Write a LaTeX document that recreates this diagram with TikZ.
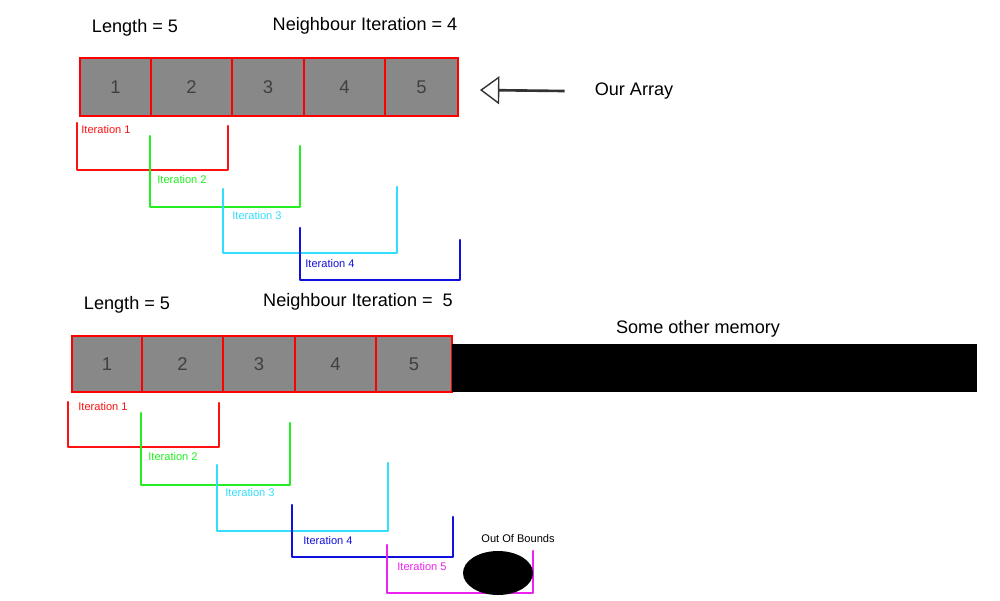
\documentclass[tikz,border=0pt]{standalone}
\usepackage{fontspec}
\setmainfont{Liberation Sans}
\usepackage{tikz}
\usetikzlibrary{positioning}
\usetikzlibrary{arrows.meta}
\usetikzlibrary{shapes.geometric}
\definecolor{cellgray}{HTML}{888888}
\definecolor{itA}{HTML}{FF1111}
\definecolor{itB}{HTML}{22EE22}
\definecolor{itC}{HTML}{33DDFF}
\definecolor{itD}{HTML}{1111DD}
\definecolor{itE}{HTML}{EE22EE}

\begin{document}
\begin{tikzpicture}[x=0.02cm, y=-0.02cm]
        \tikzstyle{cell}=[draw=red, fill=cellgray, line width=1.3pt, inner sep=0pt, text=black!75, font=\fontsize{10.5}{12}\selectfont]
        \tikzstyle{annot}=[font=\fontsize{10.3}{12}\selectfont]
        \tikzstyle{small annot}=[font=\fontsize{6.3}{8}\selectfont]
        \tikzstyle{bracket}=[line width=1.3pt, line join=round, line cap=round]
        \useasboundingbox (0,0) rectangle (1000,600);

        % Top array
        \foreach \name/\a/\b in {1/80/151,2/151/232,3/232/304,4/304/385,5/385/458}
            \node[cell, minimum width={(\b-\a)*0.02cm}, minimum height=1.16cm] (A-\name) at ({(\a+\b)/2}, 87) {\name};
        \node[annot] (lenA) at (135,28) {Length = 5};
        \node[annot] (nbA) at (365,26) {Neighbour Iteration = 4};
        \node[annot] (ours) at (634,91) {Our Array};
        \coordinate (tip) at (480,90);
        \draw[line width=1.5pt, black!80, -{Triangle[open, length=11pt, width=16pt, line width=0.8pt]}] ([xshift=-0.48cm]ours.west) -- (tip);

        % Top iterations
        \foreach \n/\col/\l/\t/\bt/\r/\rt/\lx/\ly in {1/itA/77/123/170/228/126/106/130,
                                                     2/itB/150/136/207/300/146/182/180,
                                                     3/itC/223/189/253/397/187/257/216,
                                                     4/itD/300/228/280/460/240/330/264} {
            \draw[bracket, \col] (\l,\t) -- (\l,\bt) -- (\r,\bt) -- (\r,\rt);
            \node[small annot, text=\col] (itA-\n) at (\lx,\ly) {Iteration \n};
        }

        % Bottom array
        \foreach \name/\a/\b in {1/72/142,2/142/223,3/223/295,4/295/376,5/376/452}
            \node[cell, minimum width={(\b-\a)*0.02cm}, minimum height=1.12cm] (B-\name) at ({(\a+\b)/2}, 364) {\name};
        \node[annot] (lenB) at (127,305) {Length = 5};
        \node[annot] (nbB) at (358,302) {Neighbour Iteration =~ 5};
        \node[fill=black, minimum width=10.5cm, minimum height=0.96cm, inner sep=0pt] (mem) at (714.5,368) {};
        \node[annot] (memlabel) at (698,329) {Some other memory};

        % Bottom iterations
        \foreach \n/\col/\l/\t/\bt/\r/\rt/\lx/\ly in {1/itA/68/402/447/219/403/103/407,
                                                     2/itB/141/413/485/290/423/173/457,
                                                     3/itC/217/465/531/388/463/250/493,
                                                     4/itD/292/505/557/453/517/328/541,
                                                     5/itE/387/545/593/533/551/422/567} {
            \draw[bracket, \col] (\l,\t) -- (\l,\bt) -- (\r,\bt) -- (\r,\rt);
            \node[small annot, text=\col] (itB-\n) at (\lx,\ly) {Iteration \n};
        }

        % Out of bounds
        \node[ellipse, fill=black, minimum width=1.4cm, minimum height=0.88cm, inner sep=0pt] (oob) at (498,573) {};
        \node[small annot] (ooblabel) at (518,539) {Out Of Bounds};
    \end{tikzpicture}
\end{document}
